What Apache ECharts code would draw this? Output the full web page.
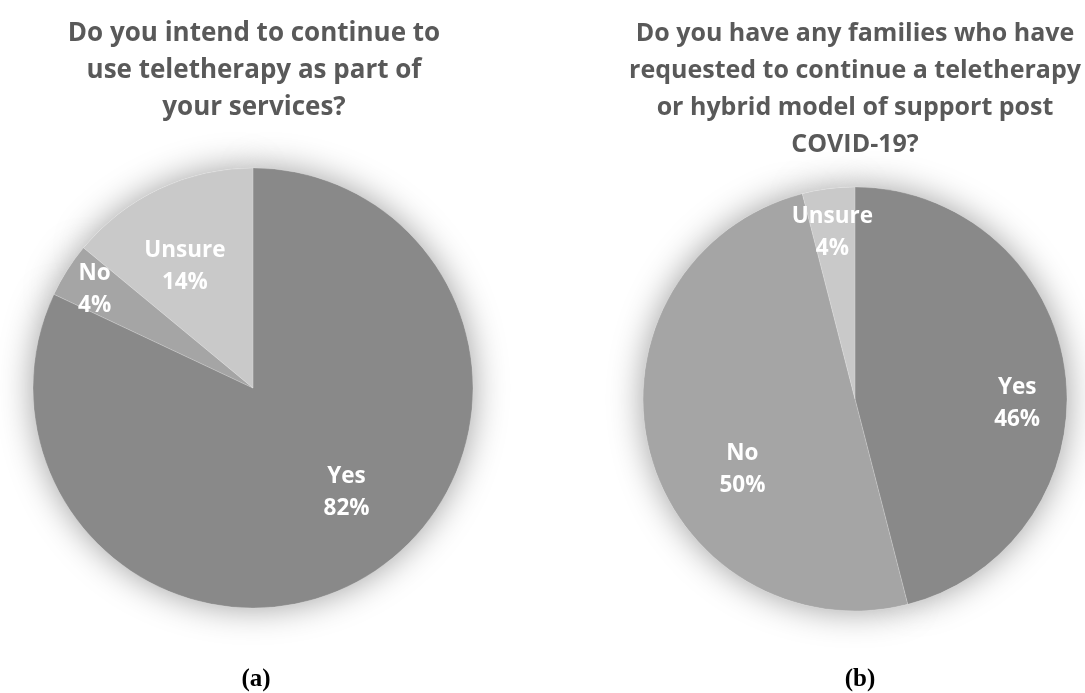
<!DOCTYPE html>
<html>
<head>
<meta charset="utf-8">
<script src="https://cdn.jsdelivr.net/npm/echarts@6/dist/echarts.min.js"></script>
<style>
html,body{margin:0;padding:0;background:#fff;}
#chart{width:1085px;height:693px;}
</style>
</head>
<body>
<div id="chart"></div>
<script>
// ---- data ----
const categories = ['Yes', 'No', 'Unsure'];
const valuesA = [82, 4, 14];
const valuesB = [46, 50, 4];
const titleA = 'Do you intend to continue to\nuse teletherapy as part of\nyour services?';
const titleB = 'Do you have any families who have\nrequested to continue a teletherapy\nor hybrid model of support post\nCOVID-19?';
const captionA = 'a';
const captionB = 'b';

// ---- styling (kept separate from data) ----
const sliceColors = ['#898989', '#a5a5a5', '#c9c9c9'];
const labelOffsetsA = [[33, 9], [-63, -38], [-20, -19]];
const labelOffsetsB = [[54, 18], [-7, 43], [-9, -58]];

function toData(vals) {
  return categories.map((c, i) => ({ name: c, value: vals[i], itemStyle: { color: sliceColors[i] } }));
}

function pieSeries(vals, center, radius, offsets) {
  return [
    { // shadow underlay
      type: 'pie', center: center, radius: radius, silent: true, z: 1,
      label: { show: false }, labelLine: { show: false },
      itemStyle: { color: '#ffffff', shadowBlur: 34, shadowColor: 'rgba(0,0,0,0.38)' },
      data: categories.map((c, i) => ({ name: c, value: vals[i] })),
      animation: false
    },
    {
      type: 'pie', center: center, radius: radius, z: 2, animation: false,
      itemStyle: { borderColor: 'rgba(255,255,255,0.3)', borderWidth: 0.6 },
      label: {
        show: true, position: 'inside', formatter: '{b}\n{d}%',
        color: '#ffffff', fontFamily: 'Open Sans', fontWeight: 'bold',
        fontSize: 22.5, lineHeight: 32, align: 'center'
      },
      labelLine: { show: false },
      labelLayout: function (p) {
        const o = offsets[p.dataIndex];
        return { dx: o[0], dy: o[1] };
      },
      data: toData(vals)
    }
  ];
}

const titleStyleA = { fontFamily: 'Open Sans', fontWeight: 'bold', fontSize: 26, lineHeight: 37, color: '#595959' };
const titleStyleB = { fontFamily: 'Open Sans', fontWeight: 'bold', fontSize: 25, lineHeight: 37, color: '#595959' };
const capRich = {
  p: { fontFamily: 'Liberation Serif', fontSize: 25, color: '#000' },
  b: { fontFamily: 'Liberation Serif', fontSize: 25, fontWeight: 'bold', color: '#000' }
};

const chart = echarts.init(document.getElementById('chart'), null, { renderer: 'canvas' });
chart.setOption({
  backgroundColor: '#ffffff',
  animation: false,
  title: [
    { text: titleA, left: 249, top: 10, textAlign: 'center', textStyle: titleStyleA },
    { text: titleB, left: 850, top: 10, textAlign: 'center', textStyle: titleStyleB },
    { text: '{p|(}{b|' + captionA + '}{p|)}', left: 251, top: 662, textAlign: 'center', textStyle: { rich: capRich } },
    { text: '{p|(}{b|' + captionB + '}{p|)}', left: 855, top: 662, textAlign: 'center', textStyle: { rich: capRich } }
  ],
  series: [].concat(
    pieSeries(valuesA, [253, 388], 220, labelOffsetsA),
    pieSeries(valuesB, [855, 399], 212, labelOffsetsB)
  )
});
</script>
</body>
</html>
